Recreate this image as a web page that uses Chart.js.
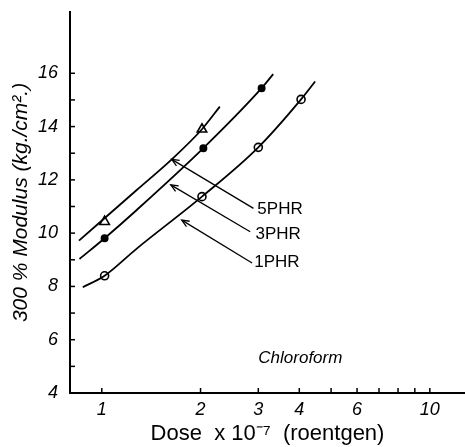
<!DOCTYPE html>
<html>
<head>
<meta charset="utf-8">
<script src="https://cdn.jsdelivr.net/npm/chart.js@4/dist/chart.umd.min.js"></script>
<style>
  body { margin: 0; background: #fff; }
</style>
</head>
<body>
<canvas id="modulusChart" width="465" height="447"></canvas>
<script>
// AXIS TICKS
const xTickValues = [1, 2, 3, 4, 5, 6, 7, 8, 9, 10];
const xTickLabels = [1, 2, 3, 4, 6, 10];
const yTickValues = [4, 5, 6, 7, 8, 9, 10, 11, 12, 13, 14, 15, 16];
const yTickLabels = [4, 6, 8, 10, 12, 14, 16];

// MEASURED POINTS
const dose5 = [1.02, 2.02];
const modulus5 = [10.43, 13.9];
const dose3 = [1.02, 2.04, 3.07];
const modulus3 = [9.81, 13.19, 15.44];
const dose1 = [1.02, 2.02, 3.0, 4.05];
const modulus1 = [8.4, 11.37, 13.22, 15.02];

// DRAWN CURVES
const curve5Dose = [0.852, 1.278, 1.634, 2.02, 2.29];
const curve5Modulus = [9.72, 11.62, 12.77, 13.9, 14.75];
const curve3Dose = [0.855, 1.02, 1.278, 2.04, 3.07, 3.33];
const curve3Modulus = [9.03, 9.81, 10.87, 13.19, 15.44, 15.97];
const curve1Dose = [0.875, 1.02, 1.278, 2.02, 3.0, 4.05, 4.47];
const curve1Modulus = [7.97, 8.4, 9.42, 11.37, 13.22, 15.02, 15.69];

// ARROWS AND LABELS
const seriesNames = ["5PHR", "3PHR", "1PHR"];
const arrowTailDose = [2.9, 2.834, 2.872];
const arrowTailModulus = [10.93, 10.05, 8.88];
const arrowHeadDose = [1.634, 1.623, 1.753];
const arrowHeadModulus = [12.77, 11.81, 10.49];
const labelDose = [2.98, 2.94, 2.915];
const labelModulus = [10.91, 9.97, 8.92];
const solventName = "Chloroform";
const solventDose = 3.0;
const solventModulus = 5.3;

const FONT = "'Liberation Sans', Arial, sans-serif";
const toPoints = (xs, ys) => xs.map((x, i) => ({ x: x, y: ys[i] }));

function curve(xs, ys) {
  return {
    data: toPoints(xs, ys),
    borderColor: "#000",
    borderWidth: 1.8,
    pointRadius: 0,
    fill: false,
    cubicInterpolationMode: "monotone"
  };
}

function markers(xs, ys, style, fill, radius) {
  return {
    data: toPoints(xs, ys),
    showLine: false,
    pointStyle: style,
    pointRadius: radius,
    pointBackgroundColor: fill,
    pointBorderColor: "#000",
    pointBorderWidth: 1.6
  };
}

// ticks pointing inward, arrows, texts
const paperMarks = {
  id: "paperMarks",
  afterDatasetsDraw(chart) {
    const ctx = chart.ctx;
    const xs = chart.scales.x;
    const ys = chart.scales.y;
    const area = chart.chartArea;
    ctx.save();
    ctx.strokeStyle = "#000";
    ctx.fillStyle = "#000";
    ctx.lineWidth = 1.5;

    xTickValues.forEach(v => {
      const px = xs.getPixelForValue(v);
      ctx.beginPath();
      ctx.moveTo(px, area.bottom);
      ctx.lineTo(px, area.bottom - 5);
      ctx.stroke();
    });
    yTickValues.forEach(v => {
      const py = ys.getPixelForValue(v);
      ctx.beginPath();
      ctx.moveTo(area.left, py);
      ctx.lineTo(area.left + 5, py);
      ctx.stroke();
    });

    ctx.lineWidth = 1.3;
    seriesNames.forEach((name, i) => {
      const tx = xs.getPixelForValue(arrowTailDose[i]);
      const ty = ys.getPixelForValue(arrowTailModulus[i]);
      const hx = xs.getPixelForValue(arrowHeadDose[i]);
      const hy = ys.getPixelForValue(arrowHeadModulus[i]);
      ctx.beginPath();
      ctx.moveTo(tx, ty);
      ctx.lineTo(hx, hy);
      ctx.stroke();
      const ang = Math.atan2(ty - hy, tx - hx);
      ctx.beginPath();
      ctx.moveTo(hx + 8 * Math.cos(ang - 0.4), hy + 8 * Math.sin(ang - 0.4));
      ctx.lineTo(hx, hy);
      ctx.lineTo(hx + 8 * Math.cos(ang + 0.4), hy + 8 * Math.sin(ang + 0.4));
      ctx.stroke();

      ctx.font = "17px " + FONT;
      ctx.textAlign = "left";
      ctx.textBaseline = "middle";
      ctx.fillText(name, xs.getPixelForValue(labelDose[i]), ys.getPixelForValue(labelModulus[i]));
    });

    ctx.font = "italic 17px " + FONT;
    ctx.textAlign = "left";
    ctx.textBaseline = "middle";
    ctx.fillText(solventName, xs.getPixelForValue(solventDose), ys.getPixelForValue(solventModulus));
    ctx.restore();
  }
};

new Chart(document.getElementById("modulusChart"), {
  type: "line",
  data: {
    datasets: [
      curve(curve5Dose, curve5Modulus),
      curve(curve3Dose, curve3Modulus),
      curve(curve1Dose, curve1Modulus),
      markers(dose5, modulus5, "triangle", "#fff", 5.5),
      markers(dose3, modulus3, "circle", "#000", 3.2),
      markers(dose1, modulus1, "circle", "#fff", 4)
    ]
  },
  options: {
    responsive: false,
    animation: false,
    layout: { autoPadding: false, padding: { top: 12, right: 0, left: 0, bottom: 0 } },
    plugins: { legend: { display: false }, tooltip: { enabled: false } },
    scales: {
      x: {
        type: "logarithmic",
        min: 0.8,
        max: 12.8,
        afterBuildTicks: s => { s.ticks = xTickValues.map(v => ({ value: v })); },
        afterFit: s => { s.height = 54; s.paddingLeft = 0; s.paddingRight = 0; },
        grid: { display: false, drawTicks: false },
        border: { color: "#000", width: 2 },
        ticks: {
          autoSkip: false,
          maxRotation: 0,
          padding: 6,
          color: "#000",
          font: { family: FONT, size: 18, style: "italic" },
          callback: v => xTickLabels.includes(v) ? String(v) : ""
        },
        title: {
          display: true,
          text: "Dose  x 10\u207B\u2077  (roentgen)",
          color: "#000",
          font: { family: FONT, size: 22 },
          padding: { top: 0, bottom: 0 }
        }
      },
      y: {
        type: "linear",
        min: 4,
        max: 18.3,
        afterBuildTicks: s => { s.ticks = yTickValues.map(v => ({ value: v })); },
        afterFit: s => { s.width = 70; s.paddingTop = 0; s.paddingBottom = 0; },
        grid: { display: false, drawTicks: false },
        border: { color: "#000", width: 2 },
        ticks: {
          autoSkip: false,
          padding: 12,
          color: "#000",
          font: { family: FONT, size: 18, style: "italic" },
          callback: v => yTickLabels.includes(v) ? String(v) : ""
        },
        title: {
          display: true,
          text: "300 % Modulus (kg./cm\u00B2.)",
          color: "#000",
          font: { family: FONT, size: 21, style: "italic" },
          padding: { top: 9, bottom: 0 }
        }
      }
    }
  },
  plugins: [paperMarks]
});
</script>
</body>
</html>
